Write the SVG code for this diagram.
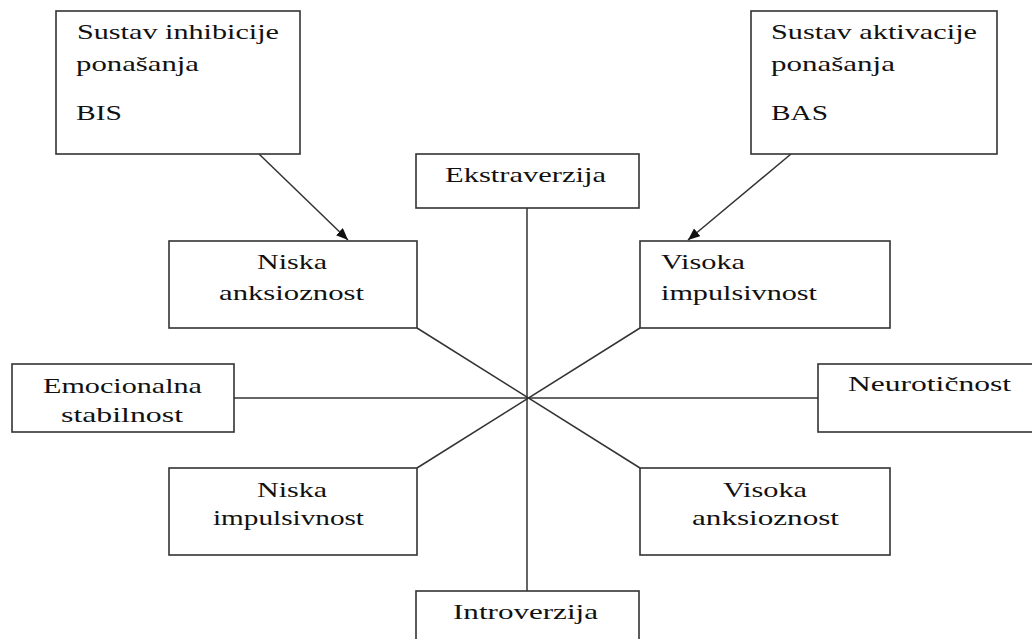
<svg xmlns="http://www.w3.org/2000/svg" width="1032" height="639" viewBox="0 0 1032 639">
<style>
.box{fill:#fff;stroke:#333;stroke-width:1.6}
.t{font-family:"Liberation Serif","Times New Roman",serif;font-size:21px;fill:#111}
.ln{stroke:#333;stroke-width:1.5;fill:none}
</style>
<defs>
<marker id="ah" viewBox="0 0 12 10" refX="12" refY="5" markerWidth="12" markerHeight="10" markerUnits="userSpaceOnUse" orient="auto">
<path d="M0,0 L12,5 L0,10 z" fill="#111"/>
</marker>
</defs>
<rect width="1032" height="639" fill="#fff"/>
<g id="connectors">
<line class="ln" x1="527" y1="208" x2="527" y2="591"/>
<line class="ln" x1="234" y1="398" x2="818" y2="398"/>
<line class="ln" x1="417" y1="328" x2="640" y2="468"/>
<line class="ln" x1="640" y1="328" x2="417" y2="468"/>
<line class="ln" x1="259" y1="154" x2="348" y2="240" marker-end="url(#ah)"/>
<line class="ln" x1="791" y1="154" x2="688" y2="240" marker-end="url(#ah)"/>
</g>
<g id="bis">
<rect class="box" x="56" y="11" width="244" height="143"/>
<text class="t" x="77" y="39" textLength="202" lengthAdjust="spacingAndGlyphs">Sustav inhibicije</text>
<text class="t" x="76" y="71" textLength="123" lengthAdjust="spacingAndGlyphs">ponašanja</text>
<text class="t" x="76" y="120" textLength="46" lengthAdjust="spacingAndGlyphs">BIS</text>
</g>
<g id="bas">
<rect class="box" x="751" y="11" width="246" height="143"/>
<text class="t" x="771" y="39" textLength="206" lengthAdjust="spacingAndGlyphs">Sustav aktivacije</text>
<text class="t" x="771" y="71" textLength="124" lengthAdjust="spacingAndGlyphs">ponašanja</text>
<text class="t" x="771" y="120" textLength="57" lengthAdjust="spacingAndGlyphs">BAS</text>
</g>
<g id="ekstraverzija">
<rect class="box" x="416" y="154" width="223" height="54"/>
<text class="t" x="445" y="182" textLength="161" lengthAdjust="spacingAndGlyphs">Ekstraverzija</text>
</g>
<g id="niska-anksioznost">
<rect class="box" x="169" y="241" width="248" height="87"/>
<text class="t" x="257" y="269" textLength="70" lengthAdjust="spacingAndGlyphs">Niska</text>
<text class="t" x="219" y="300" textLength="145" lengthAdjust="spacingAndGlyphs">anksioznost</text>
</g>
<g id="visoka-impulsivnost">
<rect class="box" x="640" y="241" width="250" height="87"/>
<text class="t" x="661" y="269" textLength="84" lengthAdjust="spacingAndGlyphs">Visoka</text>
<text class="t" x="661" y="300" textLength="156" lengthAdjust="spacingAndGlyphs">impulsivnost</text>
</g>
<g id="emocionalna-stabilnost">
<rect class="box" x="12" y="364" width="222" height="68"/>
<text class="t" x="43" y="393" textLength="159" lengthAdjust="spacingAndGlyphs">Emocionalna</text>
<text class="t" x="61" y="422" textLength="122" lengthAdjust="spacingAndGlyphs">stabilnost</text>
</g>
<g id="neuroticnost">
<rect class="box" x="818" y="364" width="220" height="68"/>
<text class="t" x="848" y="391" textLength="163" lengthAdjust="spacingAndGlyphs">Neurotičnost</text>
</g>
<g id="niska-impulsivnost">
<rect class="box" x="169" y="468" width="248" height="87"/>
<text class="t" x="257" y="497" textLength="70" lengthAdjust="spacingAndGlyphs">Niska</text>
<text class="t" x="213" y="525" textLength="151" lengthAdjust="spacingAndGlyphs">impulsivnost</text>
</g>
<g id="visoka-anksioznost">
<rect class="box" x="640" y="468" width="250" height="87"/>
<text class="t" x="723" y="497" textLength="84" lengthAdjust="spacingAndGlyphs">Visoka</text>
<text class="t" x="692" y="525" textLength="147" lengthAdjust="spacingAndGlyphs">anksioznost</text>
</g>
<g id="introverzija">
<rect class="box" x="416" y="591" width="223" height="60"/>
<text class="t" x="453" y="619" textLength="145" lengthAdjust="spacingAndGlyphs">Introverzija</text>
</g>
</svg>
